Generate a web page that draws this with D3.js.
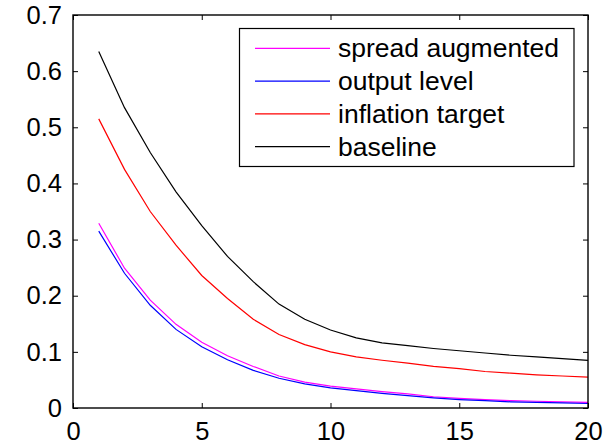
<!DOCTYPE html>
<html>
<head>
<meta charset="utf-8">
<script src="https://cdn.jsdelivr.net/npm/d3@7"></script>
<style>
  body { margin: 0; background: #fff; }
  svg text { font-family: "Liberation Sans", Arial, Helvetica, sans-serif; fill: #000; }
</style>
</head>
<body>
<svg id="chart" width="605" height="447"></svg>
<script>
// horizon 1..20
var periods = d3.range(1, 21)

var spreadAugmented = [0.329, 0.249, 0.192, 0.149, 0.117, 0.093, 0.074, 0.057, 0.046, 0.039,
                       0.034, 0.029, 0.025, 0.020, 0.017, 0.015, 0.013, 0.012, 0.011, 0.010]
var outputLevel     = [0.315, 0.240, 0.183, 0.140, 0.109, 0.086, 0.067, 0.053, 0.043, 0.036,
                       0.031, 0.026, 0.022, 0.018, 0.015, 0.013, 0.011, 0.010, 0.009, 0.008]
var inflationTarget = [0.515, 0.425, 0.350, 0.290, 0.236, 0.195, 0.158, 0.131, 0.113, 0.100,
                       0.091, 0.085, 0.080, 0.074, 0.070, 0.065, 0.062, 0.059, 0.057, 0.055]
var baseline        = [0.635, 0.535, 0.455, 0.385, 0.325, 0.270, 0.225, 0.185, 0.158, 0.139,
                       0.125, 0.116, 0.111, 0.106, 0.102, 0.098, 0.094, 0.091, 0.088, 0.085]

var seriesNames  = ['spread augmented', 'output level', 'inflation target', 'baseline']
var seriesColors = ['#ff00ff', '#0000ff', '#ff0000', '#000000']
var seriesData   = [spreadAugmented, outputLevel, inflationTarget, baseline]

var xTicks = [0, 5, 10, 15, 20]
var yTicks = [0, 0.1, 0.2, 0.3, 0.4, 0.5, 0.6, 0.7]

// plot box (window.top is read-only, so no plain "top")
var boxL = 73, boxR = 588, boxT = 15, boxB = 408

var svg = d3.select('#chart')

var x = d3.scaleLinear().domain([0, 20]).range([boxL, boxR])
var y = d3.scaleLinear().domain([0, 0.7]).range([boxB, boxT])

var line = d3.line()
  .x(function(d, i) { return x(periods[i]) })
  .y(function(d) { return y(d) })

seriesData.forEach(function(s, i) {
  svg.append('path')
    .datum(s)
    .attr('d', line)
    .attr('fill', 'none')
    .attr('stroke', seriesColors[i])
    .attr('stroke-width', 1.2)
})

// axes, ticks pointing inwards, mirrored on top and right
var tickLen = 5
var fontSize = '25.5px'

svg.append('g').attr('transform', 'translate(0,' + boxB + ')')
  .call(d3.axisBottom(x).tickValues(xTicks).tickSizeInner(-tickLen).tickSizeOuter(0).tickPadding(14)
    .tickFormat(d3.format('d')))
svg.append('g').attr('transform', 'translate(0,' + boxT + ')')
  .call(d3.axisTop(x).tickValues(xTicks).tickSizeInner(-tickLen).tickSizeOuter(0).tickFormat(''))
svg.append('g').attr('transform', 'translate(' + boxL + ',0)')
  .call(d3.axisLeft(y).tickValues(yTicks).tickSizeInner(-tickLen).tickSizeOuter(0).tickPadding(11)
    .tickFormat(function(d) { return d === 0 ? '0' : d3.format('.1f')(d) }))
svg.append('g').attr('transform', 'translate(' + boxR + ',0)')
  .call(d3.axisRight(y).tickValues(yTicks).tickSizeInner(-tickLen).tickSizeOuter(0).tickFormat(''))

svg.selectAll('.domain').remove()
svg.selectAll('.tick line').attr('stroke', '#000').attr('stroke-width', 1)
svg.selectAll('.tick text')
  .attr('font-family', '"Liberation Sans", Arial, sans-serif')
  .attr('font-size', fontSize)
  .attr('fill', '#000')

// box
svg.append('rect')
  .attr('x', boxL).attr('y', boxT)
  .attr('width', boxR - boxL).attr('height', boxB - boxT)
  .attr('fill', 'none').attr('stroke', '#000').attr('stroke-width', 1.4)

// legend
var legend = svg.append('g')
legend.append('rect')
  .attr('x', 239.5).attr('y', 28.5).attr('width', 334.5).attr('height', 138)
  .attr('fill', '#fff').attr('stroke', '#000').attr('stroke-width', 1.2)

var rowY = d3.scaleLinear().domain([0, 3]).range([48.3, 146.7])
seriesNames.forEach(function(name, i) {
  legend.append('line')
    .attr('x1', 255).attr('x2', 330)
    .attr('y1', rowY(i)).attr('y2', rowY(i))
    .attr('stroke', seriesColors[i]).attr('stroke-width', 1.2)
  legend.append('text')
    .attr('x', 338).attr('y', rowY(i) + 9)
    .attr('font-size', '26.5px')
    .text(name)
})
</script>
</body>
</html>
